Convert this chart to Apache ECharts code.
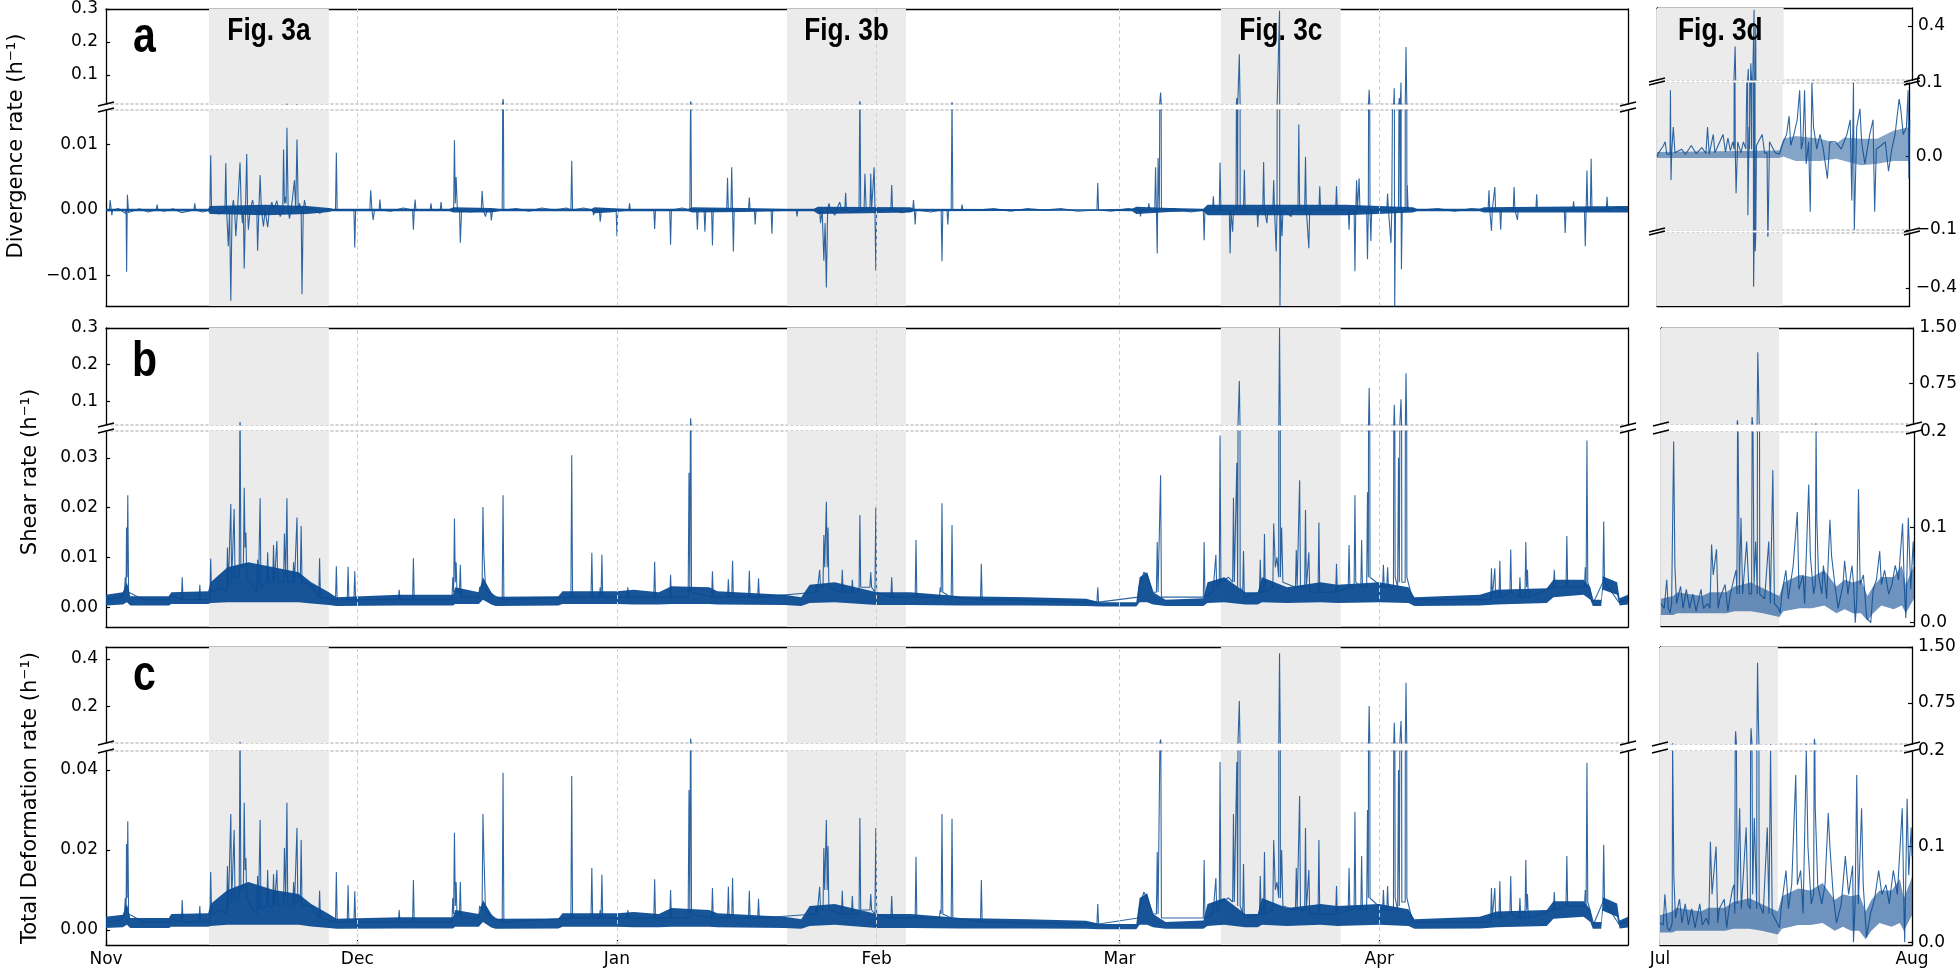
<!DOCTYPE html>
<html><head><meta charset="utf-8">
<script src="https://cdn.jsdelivr.net/npm/echarts@6/dist/echarts.min.js"></script>
<style>html,body{margin:0;padding:0;background:#fff}#c{width:1960px;height:969px}</style>
</head><body><div id="c"></div>
<script>
// ================= DATA =================
// x = days since 1 Nov (winter) or since 1 Jul (summer)
const winterMonthDays = [0, 30, 61, 92, 121, 152];
const winterMonthLabels = ['Nov', 'Dec', 'Jan', 'Feb', 'Mar', 'Apr'];
const winterGridDays = [30, 61, 92, 121, 152];
const summerTickDays = [0, 31];
const summerTickLabels = ['Jul', 'Aug'];
const winterSpan = 181.7;
const summerSpan = 31;
const winterShades = [[12.3, 26.6], [81.3, 95.5], [133.1, 147.4]];
const winterShadeNames = ['Fig. 3a', 'Fig. 3b', 'Fig. 3c'];
const summerShadeA = [0, 15.4];
const summerShadeBC = [0, 14.5];
const summerShadeName = 'Fig. 3d';

const divWinter = [[0,0],[0.4,0],[0.5,0.0015],[0.7,-0.0008],[0.8,0],[1.5,0.0002],[2.3,-0.0005],[2.4,0],[2.46,-0.0094],[2.55,0.0023],[2.7,-0.0004],[4,0.0002],[5,-0.0003],[6.0,0],[6.1,0.0008],[6.2,0],[7,-0.0002],[8,0.0002],[9,-0.0004],[10.5,0],[10.6,0.001],[10.7,0],[11.5,-0.0003],[12.4,0],[12.5,0.0083],[12.6,0],[13.5,-0.0006],[14.2,0],[14.3,0.0071],[14.4,0],[14.6,-0.0055],[14.75,0],[14.9,-0.0138],[15.05,0],[15.2,0.0015],[15.35,0],[15.5,-0.004],[15.7,0],[15.9,0],[16.0,0.0072],[16.15,0],[16.3,-0.002],[16.4,0],[16.5,-0.0089],[16.65,0],[16.8,0.0085],[16.9,0],[17.0,-0.003],[17.2,0],[17.5,0.0015],[17.7,0],[18.0,0],[18.1,-0.0062],[18.25,0],[18.4,0.0053],[18.55,0],[18.8,-0.0025],[19.0,0],[19.3,-0.0026],[19.5,0],[19.8,0.0012],[20.0,0],[20.4,0.0014],[20.6,0],[20.8,-0.001],[21.1,0],[21.2,0.0092],[21.3,0.001],[21.4,0.002],[21.5,0.001],[21.6,0.0125],[21.75,0],[21.9,-0.0013],[22.1,0],[22.5,0.0045],[22.65,0],[22.8,0.0107],[22.95,0],[23.1,0.001],[23.3,0],[23.4,-0.0128],[23.55,0],[23.7,0.0015],[23.9,0],[24.5,0.0003],[25.5,-0.0005],[26.5,0.0002],[27.4,0],[27.5,0.0087],[27.6,0],[28.9,0],[29.6,0],[29.7,-0.0057],[29.8,0],[31.5,0],[31.6,0.003],[31.75,0],[31.9,-0.0015],[32.05,0],[32.6,0],[32.7,0.0016],[32.8,0],[34,-0.0002],[35.5,0.0003],[36.6,0],[36.7,-0.003],[36.8,0],[36.9,0.0016],[37.0,0],[38,0],[38.7,0],[38.8,0.001],[38.9,0],[39.9,0],[40,0.0012],[40.1,0],[41.5,0],[41.6,0.0106],[41.7,0.001],[41.8,0.005],[41.95,0],[42.2,0],[42.3,-0.005],[42.45,0],[43.5,-0.0003],[44.8,0],[44.9,0.0029],[45.05,0],[45.3,-0.001],[45.5,0],[45.9,0],[46,-0.0016],[46.15,0],[47.3,0],[47.4,0.027],[47.5,0],[49,0.0002],[50.5,-0.0002],[52,0.0003],[53.5,0],[55,0.0003],[55.5,0],[55.6,0.0075],[55.7,0],[57,0.0003],[58.1,0],[58.2,-0.0008],[58.4,0],[58.9,0],[59,-0.0018],[59.15,0],[60.9,0],[61,-0.004],[61.1,0],[62.4,0],[62.5,0.001],[62.6,0],[65.4,0],[65.5,-0.0029],[65.6,0],[67.3,0],[67.4,-0.0053],[67.5,0],[68.8,0.0003],[69.7,0],[69.8,0.02],[69.9,0],[70.5,0],[70.6,-0.003],[70.7,0],[71.4,0],[71.5,-0.0033],[71.6,0],[72.3,0],[72.4,-0.0054],[72.5,0],[74.1,0],[74.2,0.0049],[74.3,0],[74.6,0],[74.7,0.0065],[74.8,0],[74.9,-0.0063],[75.0,0],[76.7,0],[76.8,0.0019],[76.9,0],[77.4,0],[77.5,-0.0022],[77.6,0],[79.4,0],[79.5,-0.0036],[79.6,0],[82.4,0],[82.5,-0.001],[82.6,0],[85.2,0],[85.3,-0.002],[85.5,0],[85.7,-0.0077],[85.85,-0.002],[86,-0.0118],[86.15,0],[86.3,0.001],[86.5,0],[87,-0.0008],[87.2,0],[87.6,0.0012],[87.8,0],[88.2,0],[88.3,0.0026],[88.4,0],[89,-0.0004],[89.9,0],[90,0.02],[90.1,0],[90.5,0],[90.6,0.0055],[90.75,0],[91.2,0],[91.3,0.0055],[91.4,0],[91.6,0],[91.7,0.0065],[91.8,0],[91.9,-0.0092],[92.0,0],[93.7,0],[93.8,0.0038],[93.9,0],[95,-0.0004],[96.3,0],[96.4,0.0015],[96.5,0],[96.6,-0.0022],[96.7,0],[98.5,-0.0003],[99.7,0],[99.8,-0.0078],[99.9,0],[100.4,0],[100.5,-0.0022],[100.6,0],[100.9,0],[101,0.017],[101.1,0],[102.1,0],[102.2,0.0008],[102.3,0],[104,0],[106,0.0002],[108,-0.0002],[110,0.0002],[112,0],[114,0.0002],[116,-0.0002],[118.3,0],[118.4,0.0041],[118.5,0],[120,-0.0002],[122,0.0002],[123.4,0],[123.5,-0.001],[123.6,0],[124.4,0],[124.5,0.001],[124.6,0],[125.2,0],[125.3,0.0065],[125.4,0],[125.5,-0.0066],[125.55,0],[125.6,0.0079],[125.75,0],[125.9,0.047],[126.0,0],[127.5,0.0002],[129.5,-0.0003],[131.0,0],[131.1,-0.0046],[131.2,0],[132.1,0],[132.2,0.0021],[132.3,0],[132.9,0],[133,0.0072],[133.1,0],[134.1,0],[134.2,-0.0066],[134.3,0],[134.5,-0.0033],[134.6,0],[134.9,0],[135,0.03],[135.1,0],[135.2,0],[135.3,0.163],[135.4,0],[135.8,0],[135.9,0.0061],[136.0,0],[137.4,0],[137.5,-0.0026],[137.6,0],[138.1,0],[138.2,0.0073],[138.3,0],[138.6,-0.002],[138.7,0],[139.3,0],[139.4,0.0045],[139.5,0],[139.7,-0.0063],[139.8,0],[140.0,0],[140.1,0.295],[140.12,0],[140.15,-0.015],[140.25,0],[140.4,-0.004],[140.5,0],[141.5,-0.001],[141.6,0],[142.3,0],[142.4,0.013],[142.5,0],[143.1,0],[143.2,0.0081],[143.3,0],[143.6,-0.0058],[143.7,0],[144.8,0],[144.9,0.0036],[145.0,0],[146.8,0],[146.9,0.0036],[147.0,0],[148.3,0],[148.4,-0.003],[148.5,0],[149.0,0],[149.1,-0.0093],[149.2,0],[149.3,0.0045],[149.4,0],[149.6,0.0048],[149.7,0],[150.5,0],[150.6,-0.0075],[150.7,0],[150.8,0.055],[150.9,0],[151,-0.0047],[151.1,0],[152.9,0],[153,0.0025],[153.1,0],[153.4,-0.005],[153.5,0],[153.7,0],[153.8,0.06],[153.82,0],[153.85,-0.015],[153.95,0],[154.3,0],[154.4,0.03],[154.5,0],[154.6,0.077],[154.62,0],[154.65,-0.009],[154.75,0],[155.1,0],[155.2,0.185],[155.3,0],[155.35,0.0038],[155.45,0],[157,0],[159,0.0002],[161,-0.0002],[163,0.0002],[165.0,0],[165.1,0.003],[165.2,0],[165.4,-0.0032],[165.5,0],[165.7,0],[165.8,0.0035],[165.9,0],[166.4,0],[166.5,-0.003],[166.6,0],[168.0,0],[168.1,0.0035],[168.2,0],[168.5,-0.0015],[168.6,0],[170.7,0],[170.8,0.0024],[170.9,0],[174.1,0],[174.2,-0.0035],[174.3,0],[175.1,0],[175.2,0.0013],[175.3,0],[176.5,0],[176.6,-0.0055],[176.7,0],[176.8,0.006],[176.9,0],[177.2,0],[177.3,0.0078],[177.4,0],[179.1,0],[179.2,0.002],[179.3,0],[180.5,0.0005],[181.7,0]];

// noise envelope of the dense hourly trace: [day, low, high]
const divBand = [[0,-0.0002,0.0002],[12.2,-0.0002,0.0002],[12.4,-0.0006,0.0006],[19,-0.0008,0.0008],[24,-0.0006,0.0006],[26.6,-0.0003,0.0003],[27,-0.0002,0.0002],[41,-0.0002,0.0002],[41.5,-0.0004,0.0004],[46,-0.0004,0.0003],[47,-0.0002,0.0002],[58,-0.0002,0.0002],[58.3,-0.0005,0.0004],[60,-0.0004,0.0003],[62,-0.0002,0.0002],[69.5,-0.0002,0.0002],[70,-0.0004,0.0004],[76,-0.0003,0.0003],[81,-0.0002,0.0002],[84.5,-0.0002,0.0002],[85,-0.0006,0.0005],[96,-0.0004,0.0004],[96.5,-0.0002,0.0002],[118,-0.0001,0.0001],[122.5,-0.0002,0.0002],[123,-0.0006,0.0005],[127,-0.0003,0.0003],[131,-0.0002,0.0002],[131.5,-0.0008,0.0008],[148,-0.0008,0.0008],[156,-0.0004,0.0004],[156.5,-0.0002,0.0002],[164,-0.0002,0.0002],[164.5,-0.0004,0.0004],[181.7,-0.0004,0.0006]];

const shearWinter = [[0,0.0015],[1.8,0.002],[2.2,0.003],[2.3,0.006],[2.4,0.004],[2.45,0.016],[2.52,0.006],[2.6,0.0225],[2.7,0.003],[4.5,0.0015],[7.6,0.0015],[7.7,0.0025],[9.0,0.0015],[9.1,0.006],[9.2,0.0015],[11.1,0.0015],[11.2,0.0045],[11.3,0.0015],[12.4,0.0015],[12.5,0.0097],[12.6,0.003],[13.8,0.004],[14.4,0.003],[14.5,0.012],[14.6,0.004],[14.8,0.004],[14.9,0.0207],[15.0,0.005],[15.2,0.005],[15.3,0.0197],[15.4,0.006],[15.9,0.006],[16,0.044],[16.1,0.008],[16.4,0.008],[16.5,0.024],[16.6,0.012],[16.7,0.015],[16.8,0.006],[17.6,0.004],[18.0,0.003],[18.1,0.0095],[18.2,0.004],[18.3,0.004],[18.4,0.0219],[18.5,0.004],[19.2,0.005],[19.3,0.011],[19.4,0.005],[19.9,0.005],[20,0.0125],[20.1,0.005],[20.3,0.005],[20.4,0.0133],[20.5,0.005],[21.2,0.005],[21.3,0.0148],[21.45,0.006],[21.6,0.0219],[21.7,0.005],[22.3,0.005],[22.4,0.009],[22.5,0.005],[22.7,0.005],[22.8,0.018],[22.9,0.006],[23.2,0.006],[23.3,0.0163],[23.4,0.005],[24.5,0.0045],[25.4,0.002],[25.5,0.0098],[25.6,0.002],[27.4,0.0015],[27.5,0.0082],[27.6,0.0015],[28.8,0.0015],[28.9,0.0081],[29.0,0.0015],[29.6,0.0015],[29.7,0.0072],[29.8,0.0015],[34.9,0.0015],[35,0.0035],[35.1,0.0015],[36.6,0.0015],[36.7,0.0098],[36.8,0.0015],[41.3,0.0015],[41.4,0.006],[41.5,0.003],[41.6,0.0178],[41.7,0.005],[41.8,0.009],[41.9,0.003],[42.2,0.003],[42.3,0.0085],[42.4,0.002],[44.5,0.002],[44.6,0.004],[44.9,0.004],[45,0.0201],[45.1,0.011],[45.3,0.004],[45.6,0.003],[47.3,0.0015],[47.4,0.0225],[47.5,0.0015],[55.5,0.002],[55.6,0.0305],[55.7,0.002],[57.9,0.002],[58,0.0109],[58.1,0.002],[58.9,0.002],[59,0.004],[59.1,0.002],[59.2,0.0105],[59.3,0.002],[62.2,0.002],[62.3,0.004],[62.4,0.002],[65.4,0.002],[65.5,0.0091],[65.6,0.002],[67.3,0.002],[67.4,0.0065],[67.5,0.002],[69.5,0.002],[69.6,0.027],[69.7,0.003],[69.75,0.003],[69.8,0.054],[69.9,0.003],[72.3,0.002],[72.4,0.0072],[72.5,0.002],[74.2,0.002],[74.3,0.0056],[74.4,0.002],[74.7,0.002],[74.8,0.0093],[74.9,0.002],[76.7,0.002],[76.8,0.0073],[76.9,0.002],[77.8,0.002],[77.9,0.0058],[78.0,0.002],[84.7,0.003],[84.8,0.0045],[84.9,0.003],[85.1,0.003],[85.2,0.0075],[85.3,0.004],[85.6,0.004],[85.7,0.0145],[85.8,0.008],[86,0.0212],[86.1,0.008],[86.2,0.016],[86.3,0.004],[87.8,0.003],[87.9,0.0075],[88.0,0.003],[89.0,0.003],[89.1,0.0055],[89.2,0.003],[89.9,0.003],[90,0.0185],[90.1,0.004],[91.2,0.004],[91.3,0.007],[91.4,0.004],[91.8,0.003],[91.9,0.02],[92.0,0.003],[93.7,0.002],[93.8,0.006],[93.9,0.002],[96.6,0.002],[96.7,0.0135],[96.8,0.002],[99.5,0.002],[99.6,0.004],[99.7,0.003],[99.8,0.0209],[99.9,0.003],[100.9,0.002],[101,0.0165],[101.1,0.002],[104.4,0.0015],[104.5,0.0087],[104.6,0.0015],[118.3,0.001],[118.4,0.004],[118.5,0.001],[123.2,0.002],[123.3,0.004],[123.9,0.007],[124.3,0.0065],[125,0.003],[125.4,0.003],[125.5,0.0131],[125.6,0.003],[125.8,0.003],[125.9,0.0265],[126.0,0.002],[131.0,0.002],[131.1,0.0131],[131.2,0.002],[132.1,0.003],[132.2,0.004],[132.4,0.004],[132.5,0.0105],[132.6,0.004],[132.9,0.004],[133,0.0345],[133.1,0.005],[134.0,0.006],[134.5,0.005],[134.6,0.022],[134.7,0.005],[134.9,0.005],[135,0.029],[135.1,0.004],[135.2,0.004],[135.3,0.156],[135.4,0.004],[135.7,0.003],[135.8,0.0113],[135.9,0.002],[137.7,0.003],[137.8,0.0095],[137.9,0.003],[138.2,0.003],[138.3,0.0147],[138.4,0.003],[139.3,0.004],[139.4,0.0168],[139.6,0.008],[139.8,0.01],[140.0,0.006],[140.1,0.3],[140.2,0.006],[140.35,0.016],[140.5,0.005],[142.0,0.004],[142.1,0.0115],[142.2,0.004],[142.4,0.004],[142.5,0.0255],[142.6,0.004],[143.1,0.004],[143.2,0.0195],[143.3,0.004],[143.5,0.004],[143.6,0.011],[143.7,0.003],[144.7,0.003],[144.8,0.017],[144.9,0.003],[146.8,0.003],[146.9,0.0087],[147.0,0.003],[148.3,0.004],[148.4,0.0125],[148.5,0.004],[149.0,0.004],[149.1,0.0225],[149.2,0.005],[149.8,0.004],[149.9,0.0135],[150.0,0.004],[150.5,0.004],[150.6,0.0231],[150.7,0.006],[150.8,0.137],[150.9,0.006],[152.4,0.004],[152.5,0.0085],[152.6,0.004],[152.9,0.004],[153,0.008],[153.1,0.004],[153.7,0.004],[153.8,0.091],[153.9,0.006],[154.2,0.004],[154.3,0.03],[154.4,0.005],[154.5,0.005],[154.6,0.106],[154.7,0.005],[155.1,0.005],[155.2,0.177],[155.3,0.006],[156,0.0015],[165.3,0.0015],[165.4,0.0078],[165.5,0.002],[165.7,0.002],[165.8,0.0078],[165.9,0.002],[166.3,0.002],[166.4,0.0093],[166.5,0.002],[167.6,0.003],[167.7,0.0116],[167.8,0.003],[168.7,0.002],[168.8,0.006],[168.9,0.002],[169.4,0.002],[169.5,0.0131],[169.6,0.004],[169.7,0.0075],[169.8,0.002],[172.8,0.004],[172.9,0.0075],[173.0,0.004],[174.3,0.004],[174.4,0.0143],[174.5,0.004],[176.5,0.004],[176.6,0.008],[176.7,0.004],[176.8,0.0335],[176.9,0.005],[177.6,0.001],[178.7,0.005],[178.8,0.0172],[178.9,0.005],[180.6,0.001],[181.7,0.0015]];

const shearBand = [[0,0.0003,0.0025],[2,0.0005,0.003],[2.5,0.001,0.005],[2.9,0.0003,0.0022],[7.5,0.0003,0.0022],[7.8,0.0006,0.003],[12.2,0.0006,0.0032],[12.5,0.0008,0.005],[14.5,0.001,0.008],[17,0.001,0.009],[20,0.001,0.008],[23,0.001,0.007],[24.5,0.0007,0.005],[26.6,0.0004,0.003],[27.5,0.0002,0.002],[35,0.0003,0.0025],[41.4,0.0003,0.0025],[41.7,0.0006,0.004],[44.5,0.0006,0.003],[45,0.0015,0.006],[46,0.0005,0.003],[46.5,0.0002,0.0021],[54,0.0003,0.0022],[54.5,0.0006,0.0032],[61,0.0006,0.0032],[63,0.0005,0.0035],[66,0.0005,0.003],[67.5,0.0006,0.0042],[72,0.0006,0.004],[73,0.0005,0.0032],[81,0.0004,0.0025],[83,0.0002,0.002],[84,0.0008,0.0045],[87,0.001,0.005],[92,0.0004,0.003],[96,0.0004,0.003],[102,0.0003,0.0022],[110,0.0003,0.002],[117,0.0002,0.0017],[118.7,0.0001,0.001],[123,0.0001,0.001],[123.4,0.001,0.006],[124.3,0.001,0.007],[125,0.0005,0.003],[126.5,0.0002,0.0015],[131,0.0002,0.0018],[131.5,0.0008,0.005],[133.5,0.001,0.006],[136,0.0005,0.003],[137.5,0.0005,0.003],[138,0.001,0.006],[141,0.0008,0.004],[145,0.001,0.005],[147,0.0008,0.0045],[152,0.001,0.005],[155.5,0.0008,0.004],[156.2,0.0002,0.002],[164,0.0003,0.0025],[166,0.0005,0.0035],[172,0.0008,0.0038],[172.8,0.002,0.0055],[176.4,0.0025,0.0055],[177.2,0.0015,0.004],[177.5,0.0002,0.0015],[178.5,0.0002,0.0015],[178.7,0.0035,0.0062],[180.4,0.0025,0.005],[180.7,0.0003,0.0018],[181.7,0.0005,0.0025]];

const totalWinter = [[0,0.002],[1.8,0.0025],[2.2,0.004],[2.3,0.008],[2.4,0.005],[2.45,0.0215],[2.52,0.008],[2.6,0.0272],[2.7,0.004],[4.5,0.002],[7.6,0.002],[7.7,0.003],[9.0,0.002],[9.1,0.0075],[9.2,0.002],[11.1,0.002],[11.2,0.006],[11.3,0.002],[12.4,0.002],[12.5,0.0145],[12.6,0.004],[13.8,0.005],[14.4,0.004],[14.5,0.016],[14.6,0.005],[14.8,0.005],[14.9,0.029],[15.0,0.007],[15.2,0.007],[15.3,0.025],[15.4,0.008],[15.9,0.008],[16,0.053],[16.1,0.01],[16.4,0.01],[16.5,0.0318],[16.6,0.015],[16.7,0.018],[16.8,0.008],[17.6,0.005],[18.0,0.004],[18.1,0.0135],[18.2,0.005],[18.3,0.005],[18.4,0.0275],[18.5,0.005],[19.2,0.006],[19.3,0.015],[19.4,0.006],[19.9,0.006],[20,0.014],[20.1,0.006],[20.3,0.006],[20.4,0.015],[20.5,0.006],[21.2,0.006],[21.3,0.0205],[21.45,0.008],[21.6,0.0318],[21.7,0.006],[22.3,0.006],[22.4,0.012],[22.5,0.006],[22.7,0.006],[22.8,0.0255],[22.9,0.007],[23.2,0.007],[23.3,0.0225],[23.4,0.006],[24.5,0.006],[25.4,0.003],[25.5,0.0098],[25.6,0.003],[27.4,0.002],[27.5,0.0145],[27.6,0.002],[28.8,0.002],[28.9,0.0112],[29.0,0.002],[29.6,0.002],[29.7,0.0097],[29.8,0.002],[34.9,0.002],[35,0.005],[35.1,0.002],[36.6,0.002],[36.7,0.0125],[36.8,0.002],[41.3,0.002],[41.4,0.008],[41.5,0.004],[41.6,0.0243],[41.7,0.006],[41.8,0.012],[41.9,0.004],[42.2,0.004],[42.3,0.012],[42.4,0.003],[44.5,0.003],[44.6,0.006],[44.9,0.005],[45,0.029],[45.1,0.02],[45.3,0.005],[45.6,0.004],[47.3,0.002],[47.4,0.0393],[47.5,0.002],[55.5,0.003],[55.6,0.0385],[55.7,0.003],[57.9,0.003],[58,0.0155],[58.1,0.003],[58.9,0.003],[59,0.005],[59.1,0.003],[59.2,0.0138],[59.3,0.003],[62.2,0.003],[62.3,0.005],[62.4,0.003],[65.4,0.003],[65.5,0.0127],[65.6,0.003],[67.3,0.003],[67.4,0.01],[67.5,0.003],[69.5,0.003],[69.6,0.035],[69.7,0.004],[69.75,0.004],[69.8,0.067],[69.9,0.004],[72.3,0.003],[72.4,0.0105],[72.5,0.003],[74.2,0.003],[74.3,0.0108],[74.4,0.003],[74.7,0.003],[74.8,0.013],[74.9,0.003],[76.7,0.003],[76.8,0.0098],[76.9,0.003],[77.8,0.003],[77.9,0.0078],[78.0,0.003],[84.7,0.004],[84.8,0.006],[84.9,0.004],[85.1,0.004],[85.2,0.0108],[85.3,0.005],[85.6,0.005],[85.7,0.0205],[85.8,0.01],[86,0.0275],[86.1,0.01],[86.2,0.021],[86.3,0.005],[87.8,0.004],[87.9,0.0098],[88.0,0.004],[89.0,0.004],[89.1,0.0085],[89.2,0.004],[89.9,0.004],[90,0.028],[90.1,0.005],[91.2,0.005],[91.3,0.009],[91.4,0.005],[91.8,0.004],[91.9,0.0255],[92.0,0.004],[93.7,0.003],[93.8,0.0085],[93.9,0.003],[96.6,0.003],[96.7,0.0183],[96.8,0.003],[99.5,0.003],[99.6,0.005],[99.7,0.004],[99.8,0.029],[99.9,0.004],[100.9,0.003],[101,0.0278],[101.1,0.003],[104.4,0.002],[104.5,0.0125],[104.6,0.002],[118.3,0.0015],[118.4,0.0065],[118.5,0.0015],[123.2,0.003],[123.3,0.005],[123.9,0.0095],[124.3,0.008],[125,0.004],[125.4,0.004],[125.5,0.0195],[125.6,0.004],[125.8,0.004],[125.9,0.063],[126.0,0.003],[131.0,0.003],[131.1,0.0175],[131.2,0.003],[132.1,0.004],[132.2,0.005],[132.4,0.005],[132.5,0.013],[132.6,0.005],[132.9,0.005],[133,0.042],[133.1,0.007],[134.0,0.008],[134.5,0.007],[134.6,0.029],[134.7,0.007],[134.9,0.007],[135,0.042],[135.1,0.006],[135.2,0.006],[135.3,0.224],[135.4,0.006],[135.7,0.004],[135.8,0.0165],[135.9,0.003],[137.7,0.004],[137.8,0.0135],[137.9,0.004],[138.2,0.004],[138.3,0.0195],[138.4,0.004],[139.3,0.005],[139.4,0.0225],[139.6,0.01],[139.8,0.012],[140.0,0.008],[140.1,0.424],[140.2,0.008],[140.35,0.02],[140.5,0.006],[142.0,0.005],[142.1,0.0155],[142.2,0.005],[142.4,0.005],[142.5,0.0335],[142.6,0.005],[143.1,0.005],[143.2,0.0255],[143.3,0.005],[143.5,0.005],[143.6,0.015],[143.7,0.004],[144.7,0.004],[144.8,0.0225],[144.9,0.004],[146.8,0.004],[146.9,0.011],[147.0,0.004],[148.3,0.005],[148.4,0.0155],[148.5,0.005],[149.0,0.005],[149.1,0.0295],[149.2,0.006],[149.8,0.005],[149.9,0.0185],[150.0,0.005],[150.5,0.005],[150.6,0.03],[150.7,0.008],[150.8,0.203],[150.9,0.008],[152.4,0.005],[152.5,0.01],[152.6,0.005],[152.9,0.005],[153,0.011],[153.1,0.005],[153.7,0.005],[153.8,0.133],[153.9,0.008],[154.2,0.005],[154.3,0.04],[154.4,0.006],[154.5,0.006],[154.6,0.14],[154.7,0.007],[155.1,0.007],[155.2,0.3],[155.3,0.008],[156,0.002],[165.3,0.002],[165.4,0.0105],[165.5,0.003],[165.7,0.003],[165.8,0.0105],[165.9,0.003],[166.3,0.003],[166.4,0.0122],[166.5,0.003],[167.6,0.004],[167.7,0.0135],[167.8,0.004],[168.7,0.003],[168.8,0.008],[168.9,0.003],[169.4,0.003],[169.5,0.0175],[169.6,0.005],[169.7,0.009],[169.8,0.003],[172.8,0.005],[172.9,0.0095],[173.0,0.005],[174.3,0.006],[174.4,0.0185],[174.5,0.006],[176.5,0.006],[176.6,0.01],[176.7,0.006],[176.8,0.0418],[176.9,0.007],[177.6,0.0015],[178.7,0.007],[178.8,0.0213],[178.9,0.007],[180.6,0.0015],[181.7,0.002]];

const totalBand = [[0,0.0005,0.0033],[2,0.0007,0.0038],[2.5,0.0013,0.0065],[2.9,0.0005,0.003],[7.5,0.0005,0.003],[7.8,0.0008,0.004],[12.2,0.0008,0.0042],[12.5,0.001,0.0065],[14.5,0.0013,0.01],[17,0.0013,0.012],[20,0.0013,0.01],[23,0.0013,0.009],[24.5,0.0009,0.0065],[26.6,0.0005,0.004],[27.5,0.0003,0.0028],[35,0.0004,0.0032],[41.4,0.0004,0.0032],[41.7,0.0008,0.005],[44.5,0.0008,0.004],[45,0.002,0.0075],[46,0.0006,0.004],[46.5,0.0003,0.0028],[54,0.0004,0.0029],[54.5,0.0008,0.0042],[61,0.0008,0.0042],[63,0.0007,0.0045],[66,0.0007,0.004],[67.5,0.0008,0.0055],[72,0.0008,0.005],[73,0.0007,0.0042],[81,0.0005,0.0033],[83,0.0003,0.0027],[84,0.001,0.006],[87,0.0013,0.0065],[92,0.0005,0.004],[96,0.0005,0.004],[102,0.0004,0.003],[110,0.0004,0.0027],[117,0.0003,0.0023],[118.7,0.0002,0.0015],[123,0.0002,0.0015],[123.4,0.0013,0.008],[124.3,0.0013,0.0092],[125,0.0007,0.004],[126.5,0.0003,0.002],[131,0.0003,0.0024],[131.5,0.001,0.0065],[133.5,0.0013,0.008],[136,0.0007,0.004],[137.5,0.0007,0.004],[138,0.0013,0.008],[141,0.001,0.0055],[145,0.0013,0.0065],[147,0.001,0.006],[152,0.0013,0.0065],[155.5,0.001,0.0052],[156.2,0.0003,0.0027],[164,0.0004,0.0033],[166,0.0007,0.0046],[172,0.001,0.005],[172.8,0.0028,0.0072],[176.4,0.0033,0.0072],[177.2,0.002,0.0052],[177.5,0.0003,0.002],[178.5,0.0003,0.002],[178.7,0.0048,0.0082],[180.4,0.0033,0.0066],[180.7,0.0004,0.0024],[181.7,0.0006,0.0033]];

const divSummer = [[0,0],[0.2,0.005],[0.8,0.015],[1,0.02],[1.2,0.003],[1.6,0.003],[1.65,0.09],[1.72,-0.032],[1.8,0.005],[2,0.04],[2.2,0.005],[3,0.01],[3.5,0.003],[4.2,0.015],[4.8,0.004],[5.5,0.012],[6,0.004],[6.2,0.04],[6.4,0.003],[6.9,0.03],[7.1,0.005],[8.1,0.03],[8.4,0.006],[8.7,0.025],[9,0.008],[9.3,0.02],[9.45,0.01],[9.5,0.286],[9.6,0.01],[9.7,-0.05],[9.9,0.02],[10.3,0.005],[10.6,0.02],[10.9,0.01],[11.05,0.01],[11.1,0.161],[11.15,-0.08],[11.3,0.04],[11.35,0.01],[11.4,0.193],[11.6,0.01],[11.75,0.01],[11.8,0.49],[11.85,-0.395],[11.95,0.01],[12,0.4],[12.05,-0.2],[12.2,0.015],[12.9,0.03],[13.2,0.005],[13.5,0.005],[13.6,-0.12],[13.8,0.02],[14.5,0.005],[15,0.003],[15.5,0.02],[15.9,0.03],[16.2,0.055],[16.4,0.015],[16.8,0.03],[17.2,0.05],[17.5,0.09],[17.7,0.01],[17.9,0.02],[18.1,0.09],[18.3,-0.01],[18.6,0.02],[18.8,-0.075],[19,0.1],[19.2,0.04],[19.6,0.01],[20,0.03],[20.4,0.01],[20.9,-0.03],[21.2,0.02],[21.9,0.02],[22.6,0.01],[23.3,0.03],[23.7,0.05],[23.9,-0.06],[24.1,0.1],[24.2,-0.1],[24.5,0.04],[24.9,0.065],[25.1,0.02],[25.5,-0.01],[26.1,0.03],[26.5,0.05],[26.7,-0.075],[26.9,0.01],[27.5,0.015],[28,0.02],[28.4,-0.02],[28.8,0.01],[29.2,0.03],[29.7,0.078],[29.9,0.065],[30.2,0.03],[30.6,0.04],[30.8,0.09],[30.9,-0.03],[31,0.05]];
const divSummerBand = [[0,-0.002,0.006],[15,-0.002,0.008],[15.5,0,0.024],[17,-0.006,0.028],[20,-0.006,0.024],[22,-0.003,0.018],[23,-0.006,0.026],[25,-0.012,0.024],[27,-0.01,0.024],[29,-0.006,0.035],[31,-0.006,0.04]];

const shearSummer = [[0,0.02],[0.4,0.015],[0.7,0.045],[0.9,0.015],[1.1,0.01],[1.3,0.02],[1.5,0.02],[1.55,0.19],[1.7,0.06],[1.9,0.02],[2.4,0.038],[2.7,0.015],[3.1,0.035],[3.5,0.015],[3.9,0.03],[4.3,0.012],[4.9,0.035],[5.2,0.015],[5.7,0.02],[6,0.015],[6.2,0.082],[6.4,0.05],[6.8,0.077],[7,0.015],[7.2,0.025],[7.85,0.04],[8.2,0.012],[8.5,0.03],[8.9,0.045],[9.2,0.055],[9.3,0.03],[9.4,0.25],[9.6,0.03],[9.8,0.11],[10,0.03],[10.5,0.085],[10.8,0.03],[11.1,0.03],[11.2,0.295],[11.4,0.04],[11.6,0.085],[11.8,0.03],[11.9,1.17],[12,0.65],[12.1,0.03],[12.7,0.025],[13.2,0.085],[13.4,0.02],[13.7,0.16],[13.9,0.02],[14.4,0.015],[14.6,0.01],[14.8,0.03],[15.3,0.055],[15.6,0.025],[16.2,0.06],[16.7,0.116],[16.9,0.035],[17.4,0.05],[17.6,0.02],[18.1,0.145],[18.3,0.07],[18.7,0.03],[18.9,0.04],[19,0.205],[19.1,0.105],[19.3,0.05],[19.7,0.03],[19.9,0.06],[20.3,0.025],[20.7,0.108],[20.9,0.07],[21.3,0.04],[21.7,0.015],[22.3,0.04],[22.5,0.065],[22.9,0.03],[23.4,0.06],[23.6,0.04],[23.8,0],[24,0.025],[24.2,0.14],[24.4,0.04],[24.8,0.05],[25.2,0.005],[25.7,0],[26,0.035],[26.4,0.045],[26.8,0.075],[27,0.04],[27.4,0.055],[27.9,0.03],[28.3,0.04],[28.7,0.06],[29.1,0.045],[29.6,0.104],[29.8,0.04],[30,0.005],[30.3,0.11],[30.6,0.035],[30.9,0.085],[31,0.06]];
const shearSummerBand = [[0,0.008,0.025],[1.5,0.008,0.028],[2,0.01,0.032],[5,0.01,0.028],[6,0.01,0.032],[8,0.01,0.032],[9,0.012,0.038],[11,0.012,0.042],[12.5,0.01,0.036],[14.5,0.006,0.028],[15,0.012,0.042],[17,0.015,0.05],[18.5,0.015,0.048],[20,0.018,0.055],[21.5,0.01,0.038],[22.5,0.014,0.045],[23.5,0.01,0.042],[24.5,0.01,0.045],[25.3,0.002,0.028],[26,0.01,0.038],[27,0.018,0.048],[28.5,0.014,0.048],[29.5,0.018,0.06],[30,0.01,0.04],[31,0.025,0.06]];

const totalSummer = [[0,0.02],[0.4,0.018],[0.6,0.05],[0.9,0.015],[1.2,0.012],[1.5,0.02],[1.55,0.21],[1.7,0.07],[1.9,0.025],[2.4,0.045],[2.7,0.02],[3.1,0.04],[3.5,0.018],[3.9,0.035],[4.3,0.015],[4.9,0.04],[5.2,0.018],[5.7,0.025],[6,0.018],[6.2,0.105],[6.4,0.05],[6.9,0.1],[7.1,0.02],[7.3,0.035],[7.9,0.045],[8.2,0.015],[8.5,0.035],[8.9,0.055],[9.1,0.06],[9.2,0.03],[9.3,0.37],[9.5,0.04],[9.8,0.14],[10,0.035],[10.6,0.12],[10.8,0.04],[11.1,0.035],[11.2,0.41],[11.4,0.05],[11.6,0.13],[11.9,0.035],[12,1.29],[12.1,0.55],[12.2,0.04],[12.7,0.03],[13.2,0.12],[13.4,0.03],[13.6,0.2],[13.8,0.03],[14.4,0.02],[14.7,0.015],[14.9,0.035],[15.5,0.075],[15.8,0.035],[16.2,0.06],[16.7,0.175],[16.9,0.06],[17.3,0.075],[17.6,0.03],[18,0.2],[18.2,0.1],[18.6,0.04],[18.9,0.05],[19,0.27],[19.1,0.14],[19.4,0.06],[19.9,0.04],[20.3,0.06],[20.7,0.135],[20.9,0.1],[21.3,0.05],[21.7,0.02],[22.3,0.04],[22.8,0.09],[23.2,0.05],[23.7,0.08],[23.8,0],[24,0.04],[24.2,0.175],[24.4,0.04],[24.8,0.14],[25,0.06],[25.4,0.005],[25.9,0.03],[26.4,0.045],[26.9,0.075],[27.3,0.05],[27.8,0.06],[28.2,0.04],[28.7,0.075],[29.2,0.05],[29.8,0.14],[30,0.04],[30.1,0],[30.4,0.15],[30.6,0.07],[30.9,0.12],[31,0.09]];
const totalSummerBand = [[0,0.01,0.028],[1.5,0.01,0.032],[2,0.012,0.036],[5,0.012,0.032],[6,0.012,0.036],[8,0.012,0.036],[9,0.014,0.042],[11,0.014,0.046],[12.5,0.012,0.04],[14.5,0.008,0.032],[15,0.014,0.048],[17,0.018,0.056],[18.5,0.018,0.054],[20,0.02,0.062],[21.5,0.012,0.044],[22.5,0.016,0.05],[23.5,0.012,0.048],[24.5,0.012,0.05],[25.3,0.003,0.032],[26,0.012,0.044],[27,0.02,0.054],[28.5,0.016,0.054],[29.5,0.02,0.066],[30,0.012,0.046],[31,0.028,0.068]];

// tick values and labels of every y section
const divWinterTicks = {upper: [0.1, 0.2, 0.3], upperLabels: ['0.1', '0.2', '0.3'], lower: [-0.01, 0, 0.01], lowerLabels: ['\u22120.01', '0.00', '0.01']};
const divSummerTicks = {top: [0.4], topLabels: ['0.4'], mid: [-0.1, 0, 0.1], midLabels: ['\u22120.1', '0.0', '0.1'], bottom: [-0.4], bottomLabels: ['\u22120.4']};
const shearWinterTicks = {upper: [0.1, 0.2, 0.3], upperLabels: ['0.1', '0.2', '0.3'], lower: [0, 0.01, 0.02, 0.03], lowerLabels: ['0.00', '0.01', '0.02', '0.03']};
const totalWinterTicks = {upper: [0.2, 0.4], upperLabels: ['0.2', '0.4'], lower: [0, 0.02, 0.04], lowerLabels: ['0.00', '0.02', '0.04']};
const summerRateTicks = {upper: [0.75, 1.5], upperLabels: ['0.75', '1.50'], lower: [0, 0.1, 0.2], lowerLabels: ['0.0', '0.1', '0.2']};

// ================= LAYOUT / STYLE =================
const FONT = "'DejaVu Sans', sans-serif";
const BOLDFONT = "'Liberation Sans', Arial, sans-serif";
const LINE_COLOR = '#0b4b92';
const SHADE = '#ebebeb';

const panels = [
  {row: 0, side: 'L', x0: 106, x1: 1628, span: winterSpan, data: divWinter, band: divBand, bandOpacity: 0.95, shade: 'winter', label: true,
   sections: [
     {top: 9, bottom: 104, min: 0.012, max: 0.3, ticks: divWinterTicks.upper, labels: divWinterTicks.upperLabels},
     {top: 110, bottom: 306, min: -0.0146, max: 0.0152, ticks: divWinterTicks.lower, labels: divWinterTicks.lowerLabels, band: true}]},
  {row: 0, side: 'R', x0: 1657, x1: 1912, span: summerSpan, data: divSummer, band: divSummerBand, bandOpacity: 0.5, shade: summerShadeA, label: true,
   sections: [
     {top: 8, bottom: 80, min: 0.1, max: 0.5, ticks: divSummerTicks.top, labels: divSummerTicks.topLabels},
     {top: 83, bottom: 230, min: -0.1, max: 0.1, ticks: divSummerTicks.mid, labels: divSummerTicks.midLabels, band: true},
     {top: 233, bottom: 306, min: -0.5, max: -0.1, ticks: divSummerTicks.bottom, labels: divSummerTicks.bottomLabels}]},
  {row: 1, side: 'L', x0: 106, x1: 1628, span: winterSpan, data: shearWinter, band: shearBand, bandOpacity: 0.95, shade: 'winter',
   sections: [
     {top: 328, bottom: 425, min: 0.036, max: 0.3, ticks: shearWinterTicks.upper, labels: shearWinterTicks.upperLabels},
     {top: 431, bottom: 627, min: -0.004, max: 0.0354, ticks: shearWinterTicks.lower, labels: shearWinterTicks.lowerLabels, band: true}]},
  {row: 1, side: 'R', x0: 1661, x1: 1914, span: summerSpan, data: shearSummer, band: shearSummerBand, bandOpacity: 0.6, shade: summerShadeBC,
   sections: [
     {top: 328, bottom: 424, min: 0.2, max: 1.5, ticks: summerRateTicks.upper, labels: summerRateTicks.upperLabels},
     {top: 432, bottom: 626, min: -0.0035, max: 0.2, ticks: summerRateTicks.lower, labels: summerRateTicks.lowerLabels, band: true}]},
  {row: 2, side: 'L', x0: 106, x1: 1628, span: winterSpan, data: totalWinter, band: totalBand, bandOpacity: 0.95, shade: 'winter', xLabels: true,
   sections: [
     {top: 647, bottom: 743, min: 0.048, max: 0.45, ticks: totalWinterTicks.upper, labels: totalWinterTicks.upperLabels},
     {top: 751, bottom: 945, min: -0.00375, max: 0.04475, ticks: totalWinterTicks.lower, labels: totalWinterTicks.lowerLabels, band: true}]},
  {row: 2, side: 'R', x0: 1660, x1: 1912, span: summerSpan, data: totalSummer, band: totalSummerBand, bandOpacity: 0.6, shade: summerShadeBC, xLabels: true,
   sections: [
     {top: 647, bottom: 744, min: 0.2, max: 1.5, ticks: summerRateTicks.upper, labels: summerRateTicks.upperLabels},
     {top: 751, bottom: 945, min: -0.003, max: 0.2, ticks: summerRateTicks.lower, labels: summerRateTicks.lowerLabels, band: true}]}
];

const grids = [], xAxes = [], yAxes = [], series = [], graphics = [];
const solidLine = {show: true, onZero: false, lineStyle: {color: '#000', width: 1.3}};
const dottedLine = {show: true, onZero: false, lineStyle: {color: '#c4c4c4', width: 1.6, type: [2, 3]}};
const noTick = {show: false};
const noLabel = {show: false};
const noSplit = {show: false};
const figLabels = [];

function lookup(ticks, labels) {
  return v => { const i = ticks.findIndex(t => Math.abs(t - v) < 1e-9); return i >= 0 ? labels[i] : ''; };
}

panels.forEach(p => {
  const n = p.sections.length;
  p.sections.forEach((s, k) => {
    const gi = grids.length;
    grids.push({left: p.x0, top: s.top, width: p.x1 - p.x0, height: s.bottom - s.top});
    const first = k === 0, last = k === n - 1;
    const isWinter = p.side === 'L';
    const xTicks = isWinter ? winterMonthDays : summerTickDays;
    const xLabs = isWinter ? winterMonthLabels : summerTickLabels;
    const showX = p.xLabels && last;
    xAxes.push({type: 'value', gridIndex: gi, position: 'bottom', min: 0, max: p.span,
      axisLine: last ? solidLine : dottedLine, splitLine: noSplit,
      axisTick: showX ? {show: true, inside: true, length: 5, customValues: xTicks, lineStyle: {color: '#000', width: 1.2}} : noTick,
      axisLabel: showX ? {show: true, customValues: xTicks, formatter: lookup(xTicks, xLabs), fontFamily: FONT, fontSize: 17, color: '#000', margin: 6} : noLabel});
    xAxes.push({type: 'value', gridIndex: gi, position: 'top', min: 0, max: p.span,
      axisLine: first ? solidLine : dottedLine, splitLine: noSplit, axisTick: noTick, axisLabel: noLabel});
    const tickObj = {show: true, inside: true, length: 4, customValues: s.ticks, lineStyle: {color: '#000', width: 1.2}};
    const labObj = {show: true, customValues: s.ticks, formatter: lookup(s.ticks, s.labels), fontFamily: FONT, fontSize: 17, color: '#000', margin: 8};
    yAxes.push({type: 'value', gridIndex: gi, position: 'left', min: s.min, max: s.max, scale: true,
      axisLine: solidLine, splitLine: noSplit,
      axisTick: isWinter ? tickObj : noTick, axisLabel: isWinter ? labObj : noLabel});
    yAxes.push({type: 'value', gridIndex: gi, position: 'right', min: s.min, max: s.max, scale: true,
      axisLine: solidLine, splitLine: noSplit,
      axisTick: isWinter ? noTick : tickObj, axisLabel: isWinter ? noLabel : Object.assign({}, labObj, {margin: 6})});
    const xi = 2 * gi, yi = 2 * gi + (isWinter ? 0 : 1);

    // shading + month gridlines on a transparent carrier series
    let areas;
    if (p.shade === 'winter') {
      areas = winterShades.map(r => [{xAxis: r[0]}, {xAxis: r[1]}]);
      if (p.label && first) winterShades.forEach((r, i) => figLabels.push({xi: xi, day: (r[0] + r[1]) / 2, text: winterShadeNames[i]}));
    } else {
      areas = [[{xAxis: p.shade[0]}, {xAxis: p.shade[1]}]];
      if (p.label && first) figLabels.push({xi: xi, day: (p.shade[0] + p.shade[1]) / 2, text: summerShadeName});
    }
    const carrier = {type: 'line', xAxisIndex: xi, yAxisIndex: yi, data: [[0, s.min]], showSymbol: false, silent: true, z: 1,
      lineStyle: {opacity: 0},
      markArea: {silent: true, itemStyle: {color: SHADE}, data: areas, label: {show: false}}};
    if (isWinter) {
      carrier.markLine = {silent: true, symbol: ['none', 'none'], label: {show: false},
        lineStyle: {color: '#cfcfcf', type: [4, 3], width: 1}, data: winterGridDays.map(d => ({xAxis: d}))};
    }
    series.push(carrier);

    if (s.band && p.band) {
      const band = p.band, op = p.bandOpacity;
      series.push({type: 'custom', xAxisIndex: xi, yAxisIndex: yi, silent: true, z: 2, data: [[0, 0]],
        renderItem: (params, api) => {
          if (params.dataIndex !== 0) return null;
          const up = band.map(b => api.coord([b[0], b[2]]));
          const dn = band.slice().reverse().map(b => api.coord([b[0], b[1]]));
          return {type: 'polygon', shape: {points: up.concat(dn)}, style: {fill: LINE_COLOR, opacity: op}};
        }});
    }
    series.push({type: 'line', xAxisIndex: xi, yAxisIndex: yi, data: p.data, showSymbol: false, silent: true, z: 3,
      clip: true, sampling: 'none', lineStyle: {color: LINE_COLOR, width: 1.1, opacity: 0.85}});

    // break marks
    if (!last) {
      const nx = p.sections[k + 1];
      [s.bottom, nx.top].forEach(y => {
        [p.x0, p.x1].forEach(x => {
          graphics.push({type: 'line', silent: true, z: 100,
            shape: {x1: x - 8, y1: y + 2, x2: x + 8, y2: y - 2}, style: {stroke: '#000', lineWidth: 1.6}});
        });
      });
    }
  });
});

// y-axis titles and panel letters
const yTitles = [
  {text: 'Divergence rate (h\u207B\u00B9)', x: 17, y: 146},
  {text: 'Shear rate (h\u207B\u00B9)', x: 31, y: 472},
  {text: 'Total Deformation rate (h\u207B\u00B9)', x: 31, y: 798}
];
yTitles.forEach(t => graphics.push({type: 'text', x: t.x, y: t.y, rotation: Math.PI / 2, silent: true,
  style: {text: t.text, font: '21px ' + FONT, fill: '#000', align: 'center', verticalAlign: 'middle'}}));
const panelLetters = [{t: 'a', x: 133, y: 38}, {t: 'b', x: 132, y: 362}, {t: 'c', x: 133, y: 676}];
panelLetters.forEach(l => graphics.push({type: 'text', x: l.x, y: l.y, scaleX: 0.82, silent: true,
  style: {text: l.t, font: 'bold 50px ' + BOLDFONT, fill: '#000', align: 'left', verticalAlign: 'middle'}}));

const chart = echarts.init(document.getElementById('c'), null, {renderer: 'canvas'});
chart.setOption({animation: false, backgroundColor: '#fff', grid: grids, xAxis: xAxes, yAxis: yAxes, series: series, graphic: graphics});

// "Fig. 3x" labels centred on the shaded periods (positions from the axis scale)
figLabels.forEach(f => {
  const px = chart.convertToPixel({xAxisIndex: f.xi}, f.day);
  graphics.push({type: 'text', x: px, y: 31, scaleX: 0.82, silent: true, z: 90,
    style: {text: f.text, font: 'bold 32px ' + BOLDFONT, fill: '#000', align: 'center', verticalAlign: 'middle'}});
});
chart.setOption({graphic: graphics});
</script></body></html>
